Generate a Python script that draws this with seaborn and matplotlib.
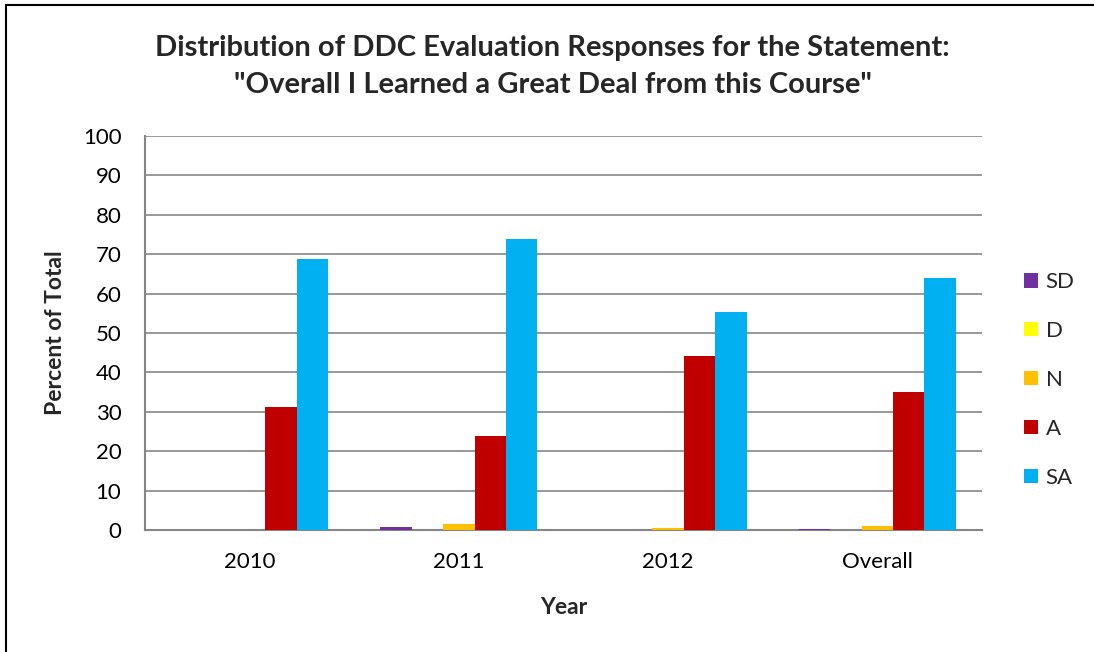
import pandas
import seaborn
import matplotlib.pyplot as plt
from matplotlib.patches import Patch
from matplotlib.lines import Line2D

years = ['2010', '2011', '2012', 'Overall']
responses = ['SD', 'D', 'N', 'A', 'SA']
colors = ['#7030A0', '#FFFF00', '#FFC000', '#C00000', '#00B0F0']

sd = [0.0, 0.7, 0.0, 0.3]
d = [0.0, 0.0, 0.0, 0.0]
n = [0.0, 1.4, 0.5, 0.9]
a = [31.2, 23.9, 44.2, 35.0]
sa = [68.8, 73.9, 55.3, 64.0]

rows = []
for resp, vals in zip(responses, [sd, d, n, a, sa]):
    for yr, v in zip(years, vals):
        rows.append({'Year': yr, 'Response': resp, 'Percent': v})
df = pandas.DataFrame(rows)

seaborn.set_style('white')
plt.rcParams['font.family'] = ['Lato', 'DejaVu Sans']

fig = plt.figure(figsize=(10.94, 6.52), dpi=100)
ax = fig.add_axes([145 / 1094, 1 - 530 / 652, 837 / 1094, 394 / 652])

seaborn.barplot(data=df, x='Year', y='Percent', hue='Response', order=years,
                hue_order=responses, palette=colors, width=0.75, gap=0,
                saturation=1, errorbar=None, ax=ax, legend=False, zorder=3,
                linewidth=0)

ax.set_ylim(0, 100)
ax.set_xlim(-0.5, 3.5)
ax.set_yticks(range(0, 101, 10))
ax.yaxis.grid(True, color='#868686', linewidth=1.2, zorder=0)
ax.set_axisbelow(True)
for side in ['top', 'right']:
    ax.spines[side].set_visible(False)
for side in ['left', 'bottom']:
    ax.spines[side].set_color('#868686')
    ax.spines[side].set_linewidth(1.5)
ax.tick_params(axis='y', length=0, labelsize=16, colors='black', pad=17)
ax.tick_params(axis='x', length=0, labelsize=16, colors='black', pad=16)
ax.set_xlabel('Year', fontsize=16.5, fontweight='bold', labelpad=18)
ax.set_ylabel('Percent of Total', fontsize=16.5, fontweight='bold', labelpad=12)

fig.suptitle('Distribution of DDC Evaluation Responses for the Statement:\n'
             '"Overall I Learned a Great Deal from this Course"',
             x=0.505, y=0.946, fontsize=21, fontweight='bold', linespacing=1.5)

handles = [Patch(facecolor=c, edgecolor='none') for c in colors]
fig.legend(handles, responses, loc='center left', bbox_to_anchor=(1024 / 1094, 1 - 380 / 652),
           frameon=False, fontsize=16, handlelength=0.62, handleheight=0.62,
           handletextpad=0.35, labelspacing=1.3, borderpad=0, borderaxespad=0)

# outer frame of the chart area
fig.add_artist(Line2D([6 / 1094, 6 / 1094], [0, 1 - 5 / 652], transform=fig.transFigure,
                      color='black', linewidth=1.5))
fig.add_artist(Line2D([6 / 1094, 1], [1 - 5 / 652, 1 - 5 / 652], transform=fig.transFigure,
                      color='black', linewidth=1.5))

fig.savefig('out.png', dpi=100)
